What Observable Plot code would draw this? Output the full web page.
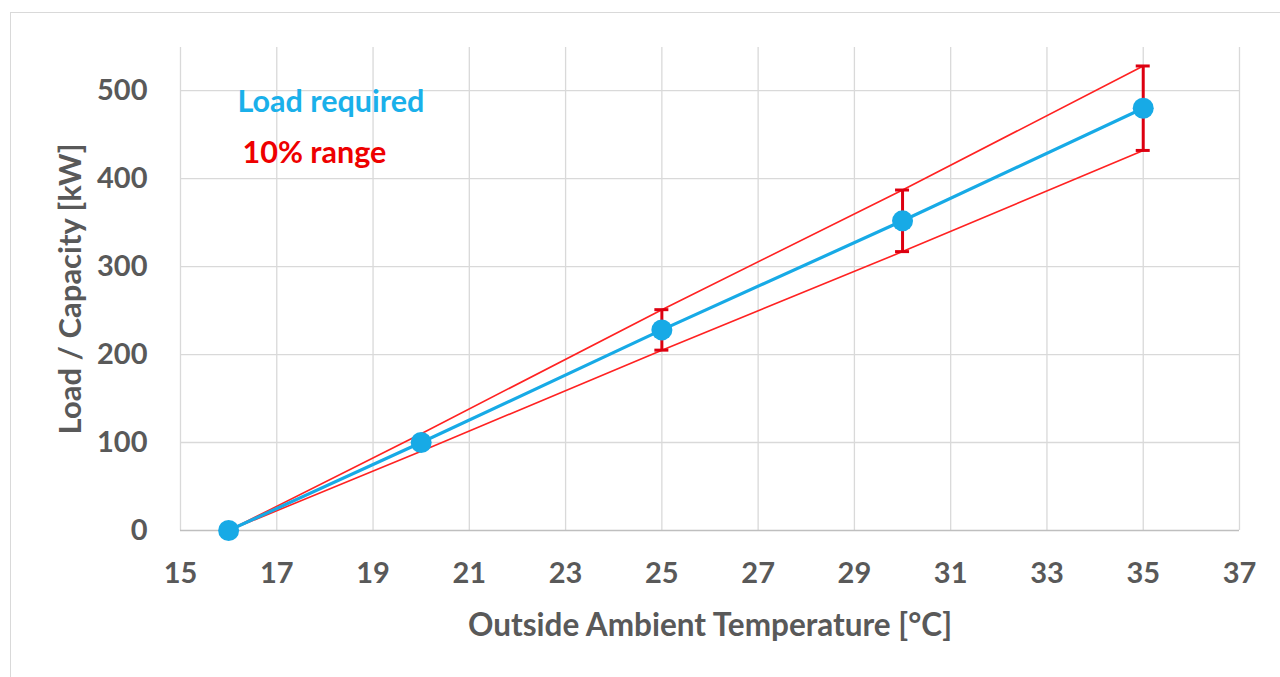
<!DOCTYPE html>
<html>
<head>
<meta charset="utf-8">
<script src="https://cdn.jsdelivr.net/npm/d3@7"></script>
<script src="https://cdn.jsdelivr.net/npm/@observablehq/plot@0.6"></script>
<style>
  html, body { margin: 0; padding: 0; background: #fff; }
  #wrap { position: relative; width: 1280px; height: 677px; overflow: hidden; }
  #border { position: absolute; left: 10px; top: 12px; width: 1290px; height: 700px; border: 1.5px solid #d9d9d9; box-sizing: border-box; }
  #chart { position: absolute; left: 0; top: 0; }
</style>
</head>
<body>
<div id="wrap"><div id="border"></div><div id="chart"></div></div>
<script>
// Data
const temperatures = [16, 20, 25, 30, 35];
const loadRequired = [0, 100, 228, 352, 480];
const upperRange = [0, 110, 251, 387, 528];
const lowerRange = [0, 90, 205, 317, 432];
const errorBarTemps = [25, 30, 35];
const xTicks = [15, 17, 19, 21, 23, 25, 27, 29, 31, 33, 35, 37];
const yTicks = [0, 100, 200, 300, 400, 500];
const legendLabels = ["Load required", "10% range"];
const xTitle = "Outside Ambient Temperature [°C]";
const yTitle = "Load / Capacity [kW]";

const rows = temperatures.map((t, i) => ({t, load: loadRequired[i], hi: upperRange[i], lo: lowerRange[i]}));
const errRows = rows.filter(d => errorBarTemps.includes(d.t));

const font = "Lato, 'Open Sans', sans-serif";
const gray = "#595959";
const blue = "#17aae6";
const red = "#ff2222";
const darkRed = "#dd0010";

const chart = Plot.plot({
  width: 1280,
  height: 677,
  marginLeft: 180,
  marginRight: 41,
  marginTop: 47,
  marginBottom: 147,
  style: {fontFamily: font, fontWeight: "bold", fontSize: "29px", color: gray, background: "transparent"},
  x: {type: "linear", domain: [15, 37]},
  y: {type: "linear", domain: [0, 549]},
  marks: [
    Plot.gridX(xTicks, {stroke: "#d9d9d9", strokeOpacity: 1, strokeWidth: 1.3}),
    Plot.gridY(yTicks.filter(v => v > 0), {stroke: "#d9d9d9", strokeOpacity: 1, strokeWidth: 1.3}),
    Plot.ruleY([0], {stroke: "#bfbfbf", strokeWidth: 1.5}),
    Plot.axisX(xTicks, {tickSize: 0, tickPadding: 32, label: null, fontSize: 29, fill: gray}),
    Plot.axisY(yTicks, {tickSize: 0, tickPadding: 33, label: null, fontSize: 29, fill: gray}),
    Plot.text([xTitle], {frameAnchor: "bottom", dy: 95, lineAnchor: "middle", textAnchor: "middle", fontSize: 31.5, fill: gray}),
    Plot.text([yTitle], {frameAnchor: "left", dx: -109, rotate: -90, lineAnchor: "middle", textAnchor: "middle", fontSize: 31, fill: gray}),
    Plot.line(rows, {x: "t", y: "hi", stroke: red, strokeWidth: 1.6}),
    Plot.line(rows, {x: "t", y: "lo", stroke: red, strokeWidth: 1.6}),
    Plot.ruleX(errRows, {x: "t", y1: "lo", y2: "hi", stroke: darkRed, strokeWidth: 3}),
    Plot.ruleY(errRows, {y: "hi", x1: "t", x2: "t", insetLeft: -7, insetRight: -7, stroke: darkRed, strokeWidth: 3}),
    Plot.ruleY(errRows, {y: "lo", x1: "t", x2: "t", insetLeft: -7, insetRight: -7, stroke: darkRed, strokeWidth: 3}),
    Plot.line(rows, {x: "t", y: "load", stroke: blue, strokeWidth: 3.2}),
    Plot.dot(rows, {x: "t", y: "load", r: 10.5, fill: blue, stroke: "none"}),
    Plot.text([legendLabels[0]], {frameAnchor: "top-left", dx: 57, dy: 55, lineAnchor: "middle", fill: "#1ab0ea", fontSize: 30.5, textAnchor: "start"}),
    Plot.text([legendLabels[1]], {frameAnchor: "top-left", dx: 62, dy: 106, lineAnchor: "middle", fill: "#ee0000", fontSize: 30.5, textAnchor: "start"})
  ]
});
document.getElementById("chart").appendChild(chart);
</script>
</body>
</html>
